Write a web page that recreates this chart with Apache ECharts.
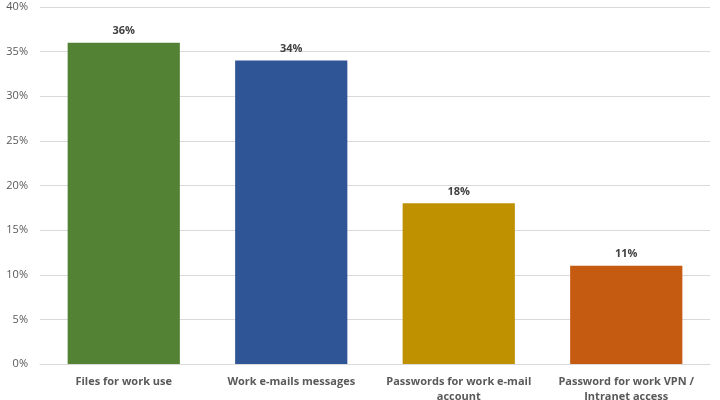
<!DOCTYPE html>
<html><head><meta charset="utf-8">
<script src="https://cdn.jsdelivr.net/npm/echarts@6/dist/echarts.min.js"></script>
<style>html,body{margin:0;padding:0;background:#fff}#c{width:720px;height:400px}</style>
</head><body><div id="c"></div>
<script>
const categories = ["Files for work use", "Work e-mails messages", "Passwords for work e-mail\naccount", "Password for work VPN /\nIntranet access"];
const values = [36, 34, 18, 11];
const colors = ["#548235", "#2F5597", "#BF9000", "#C55A11"];
const yTicks = {min: 0, max: 40, interval: 5};

const chart = echarts.init(document.getElementById('c'), null, {renderer: 'canvas'});
chart.setOption({
  animation: false,
  grid: {left: 40, right: 10, top: 7, bottom: 36, containLabel: false, outerBoundsMode: 'none'},
  xAxis: {
    type: 'category', data: categories,
    axisLine: {show: true, lineStyle: {color: '#d9d9d9'}},
    axisTick: {show: false},
    axisLabel: {color: '#595959', fontFamily: 'Open Sans', fontWeight: 'bold', fontSize: 11, margin: 10, lineHeight: 15, interval: 0}
  },
  yAxis: {
    type: 'value', min: yTicks.min, max: yTicks.max, interval: yTicks.interval,
    axisLine: {show: false}, axisTick: {show: false},
    splitLine: {lineStyle: {color: '#d9d9d9'}},
    axisLabel: {color: '#595959', fontFamily: 'Open Sans', fontSize: 11, margin: 12, formatter: v => v + '%'}
  },
  series: [{
    type: 'bar', barWidth: '67%',
    data: values.map((v, i) => ({value: v, itemStyle: {color: colors[i]}})),
    label: {show: true, position: 'top', distance: 6, color: '#404040', fontFamily: 'Open Sans', fontWeight: 'bold', fontSize: 11, formatter: p => p.value + '%'}
  }]
});
</script></body></html>
